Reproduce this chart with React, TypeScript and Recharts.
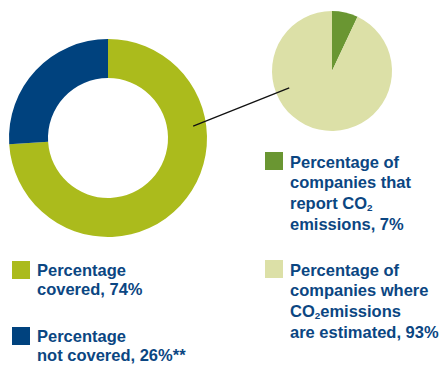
import React from 'react'
import { PieChart, Pie, Cell } from 'recharts'

const coverageNames = ['Percentage covered', 'Percentage not covered']
const coverageValues = [74, 26]
const coverageLabels = [
  ['Percentage', 'covered, 74%'],
  ['Percentage', 'not covered, 26%**'],
]

const reportNames = ['Percentage of companies that report CO2 emissions', 'Percentage of companies where CO2 emissions are estimated']
const reportValues = [7, 93]
const reportLabels = [
  ['Percentage of', 'companies that', 'report CO2', 'emissions, 7%'],
  ['Percentage of', 'companies where', 'CO2emissions', 'are estimated, 93%'],
]

const coverageColors = ['#abbb1c', '#00427e']
const reportColors = ['#6a9632', '#dce0a7']
const textColor = '#0b4682'

const W = 440
const H = 365
const donut = { cx: 108, cy: 138, inner: 60, outer: 99 }
const small = { cx: 332, cy: 71, outer: 60 }

const coverageData = coverageNames.map((name, i) => ({ name, value: coverageValues[i] }))
const reportData = reportNames.map((name, i) => ({ name, value: reportValues[i] }))

// connector from the donut ring into the small pie, drawn above both pies
const Connector = () => {
  const a1 = (8 * Math.PI) / 180
  const a2 = (201.6 * Math.PI) / 180
  const x1 = donut.cx + 86 * Math.cos(a1)
  const y1 = donut.cy - 86 * Math.sin(a1)
  const x2 = small.cx + 46 * Math.cos(a2)
  const y2 = small.cy - 46 * Math.sin(a2)
  return (
    <svg width={W} height={H} style={{ position: 'absolute', left: 0, top: 0, pointerEvents: 'none' }}>
      <line x1={x1} y1={y1} x2={x2} y2={y2} stroke="#111" strokeWidth={1.3} />
    </svg>
  )
}

const withSub = (line: string) => {
  const parts = line.split('CO2')
  return parts.map((p, i) => (
    <React.Fragment key={i}>
      {p}
      {i < parts.length - 1 && (
        <>
          CO<sub style={{ fontSize: '0.6em', lineHeight: 0, verticalAlign: '-0.25em' }}>2</sub>
        </>
      )}
    </React.Fragment>
  ))
}

const LegendBlock = ({ x, y, color, lines, lh }: { x: number; y: number; color: string; lines: string[]; lh: number }) => (
  <div style={{ position: 'absolute', left: x, top: y }}>
    <div style={{ position: 'absolute', left: 0, top: 0, width: 18, height: 18, background: color }} />
    <div
      style={{
        position: 'absolute',
        left: 25,
        top: -0.5,
        whiteSpace: 'nowrap',
        fontFamily: '"Liberation Sans", Arial, sans-serif',
        fontWeight: 700,
        fontSize: 16.5,
        lineHeight: `${lh}px`,
        color: textColor,
      }}
    >
      {lines.map((l, i) => (
        <div key={i}>{withSub(l)}</div>
      ))}
    </div>
  </div>
)

export default function App() {
  return (
    <div style={{ position: 'absolute', left: 0, top: 0, width: W, height: H, background: '#fff', overflow: 'hidden' }}>
      <PieChart width={W} height={H} margin={{ top: 0, right: 0, bottom: 0, left: 0 }}>
        <Pie
          data={coverageData}
          dataKey="value"
          cx={donut.cx}
          cy={donut.cy}
          innerRadius={donut.inner}
          outerRadius={donut.outer}
          startAngle={90}
          endAngle={-270}
          stroke="none"
          isAnimationActive={false}
        >
          {coverageData.map((d, i) => (
            <Cell key={d.name} fill={coverageColors[i]} />
          ))}
        </Pie>
        <Pie
          data={reportData}
          dataKey="value"
          cx={small.cx}
          cy={small.cy}
          innerRadius={0}
          outerRadius={small.outer}
          startAngle={90}
          endAngle={-270}
          stroke="none"
          isAnimationActive={false}
        >
          {reportData.map((d, i) => (
            <Cell key={d.name} fill={reportColors[i]} />
          ))}
        </Pie>
      </PieChart>
      <Connector />
      <LegendBlock x={12} y={261} color={coverageColors[0]} lines={coverageLabels[0]} lh={19.5} />
      <LegendBlock x={12} y={327} color={coverageColors[1]} lines={coverageLabels[1]} lh={19.5} />
      <LegendBlock x={265} y={152} color={reportColors[0]} lines={reportLabels[0]} lh={20.7} />
      <LegendBlock x={265} y={260} color={reportColors[1]} lines={reportLabels[1]} lh={20.7} />
    </div>
  )
}
